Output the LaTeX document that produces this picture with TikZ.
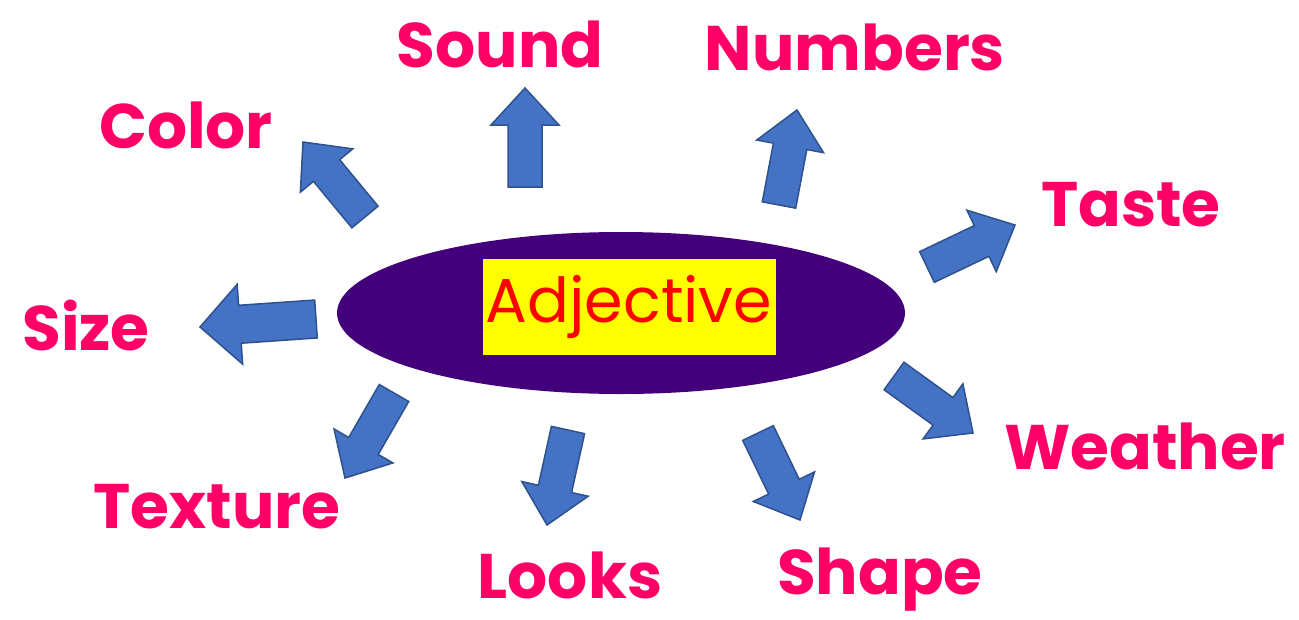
\documentclass[tikz,border=0pt]{standalone}
\usepackage{fontspec}
\setmainfont{Poppins}
\usetikzlibrary{calc,shapes.geometric}
\definecolor{Pink}{HTML}{FF0066}
\definecolor{ArrowBlue}{HTML}{4472C4}
\definecolor{ArrowEdge}{HTML}{2F528F}
\definecolor{Purple}{HTML}{43007A}
\definecolor{Tag}{HTML}{FFFF00}
\definecolor{TagText}{HTML}{FF0000}
\tikzset{
 word/.style={text=Pink, inner sep=0pt, font=\bfseries\fontsize{63}{63}\selectfont},
 blockarrow/.style={fill=ArrowBlue, draw=ArrowEdge, line width=1.5pt, line join=miter},
 hub/.style={ellipse, fill=Purple, minimum width=568pt, minimum height=162pt, inner sep=0pt},
 tag/.style={fill=Tag, text=TagText, minimum width=293pt, minimum height=96pt, inner sep=0pt, font=\fontsize{62}{62}\selectfont}
}
% block arrow: tail, tip, half shaft, half head, head length
\newcommand{\blockarr}[5]{%
  \coordinate (hb) at ($(#2)!#5!(#1)$);
  \draw[blockarrow] ($(#1)!#3!90:(#2)$) -- ($(hb)!#3!90:(#2)$) -- ($(hb)!#4!90:(#2)$) -- (#2)
    -- ($(hb)!#4!-90:(#2)$) -- ($(hb)!#3!-90:(#2)$) -- ($(#1)!#3!-90:(#2)$) -- cycle;
}
\begin{document}
\begin{tikzpicture}[x=1pt,y=-1pt]
\useasboundingbox[fill=white] (0,0) rectangle (1299,619);
\node[hub] (adj) at (621,313) {};
\node[tag] (adjtag) at (629,307) {Adjective};
\foreach \name/\lab/\lx/\ly/\tx/\ty/\px/\py in {
sound/Sound/500/44/525/187/525/88,
numbers/Numbers/855/47/779/205/797/110,
color/Color/186/125/365/217/303/142,
taste/Taste/1131/205/927/267/1015/225,
weather/Weather/1145/446/894/376/973/433,
shape/Shape/880/580/758/433/800/520,
looks/Looks/570/575/568/430/547/525,
texture/Texture/217/507/394/393/345/478}{
  \node[word] (\name) at (\lx,\ly) {\lab};
  \coordinate (\name-tail) at (\tx,\ty);
  \coordinate (\name-tip) at (\px,\py);
  \blockarr{\name-tail}{\name-tip}{17pt}{34pt}{37pt}
}
\node[word] (size) at (86,326) {Size};
\coordinate (size-tail) at (316,319);
\coordinate (size-tip) at (200,327);
\blockarr{size-tail}{size-tip}{19pt}{40pt}{40pt}
\end{tikzpicture}
\end{document}
